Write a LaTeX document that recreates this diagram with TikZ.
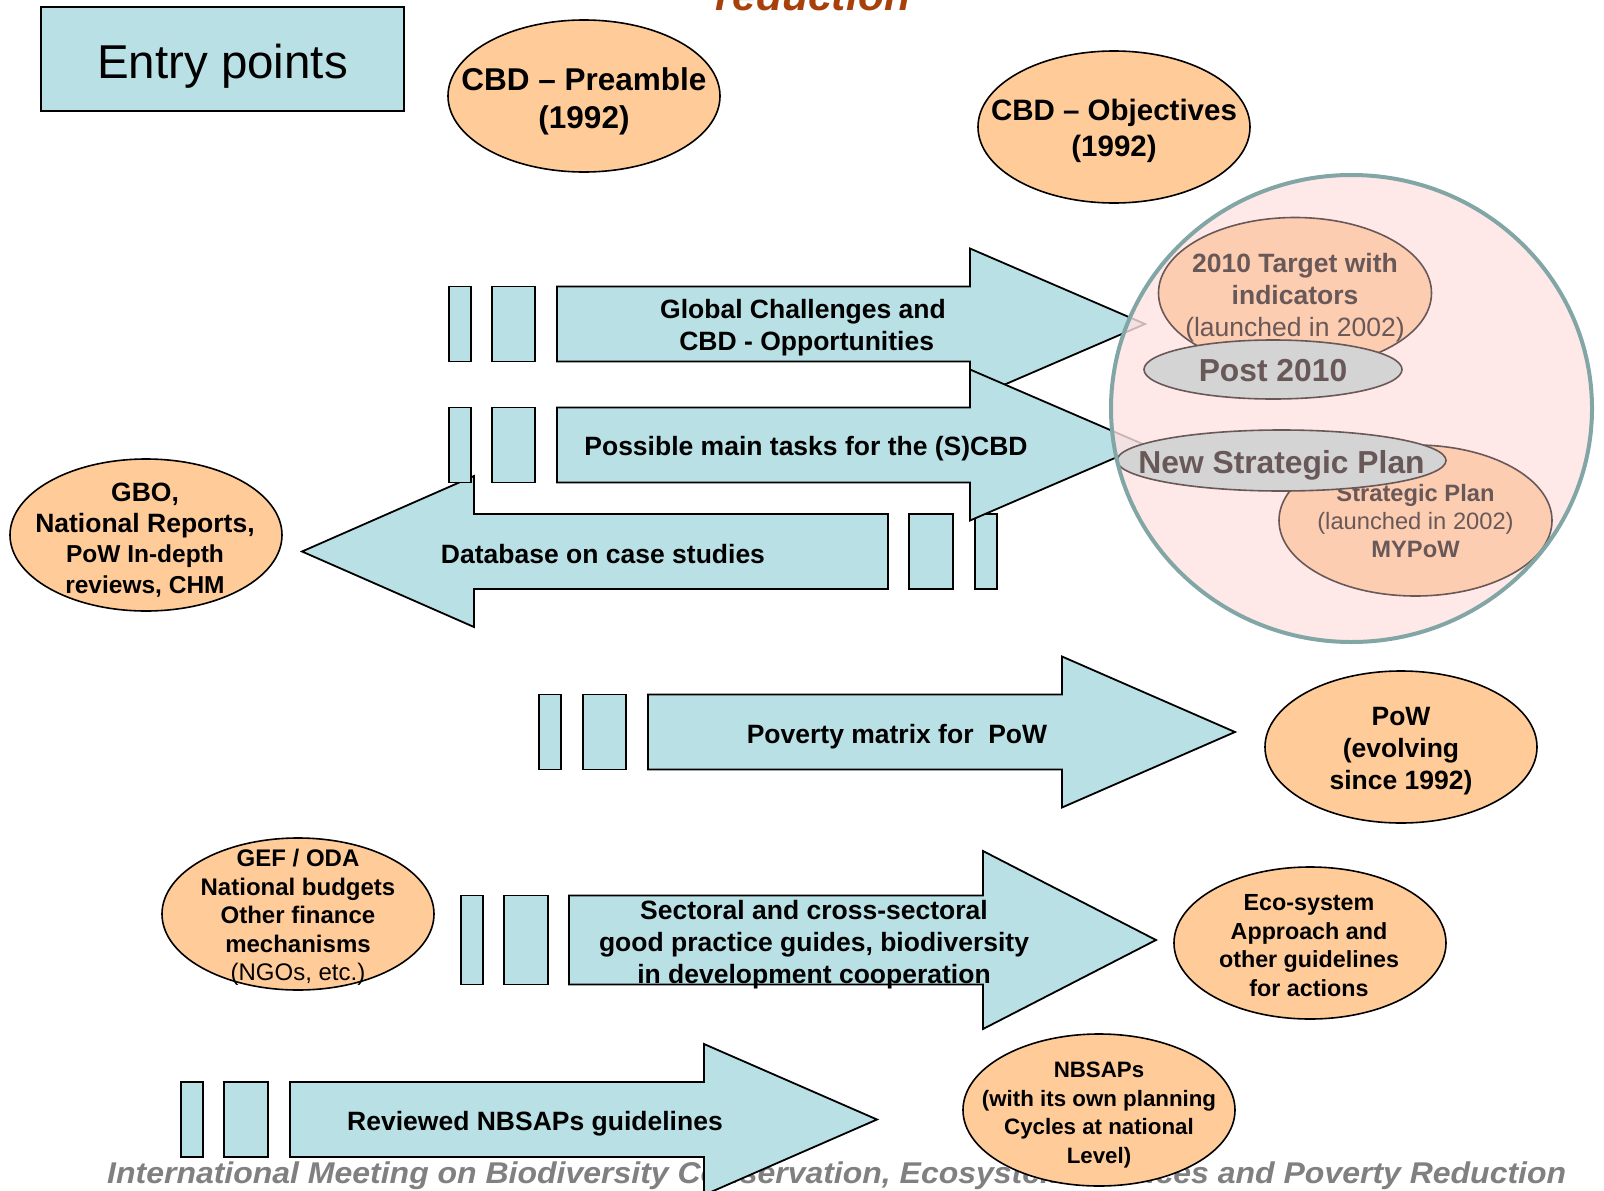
\documentclass[tikz,border=0pt]{standalone}
\usepackage{fontspec}
\setmainfont{Liberation Sans}
\usetikzlibrary{shapes.geometric}
\definecolor{arrowblue}{RGB}{185,224,228}
\definecolor{orangefill}{RGB}{255,204,153}
\definecolor{pinkfill}{RGB}{255,226,226}
\definecolor{circleborder}{RGB}{130,166,166}
\definecolor{innertext}{RGB}{105,88,88}
\definecolor{peach}{RGB}{253,205,178}
\definecolor{grayell}{RGB}{212,212,212}
\definecolor{titlebrown}{RGB}{168,64,12}
\definecolor{footergray}{RGB}{128,128,128}
\newcommand{\myarrowR}[6]{\draw[arrowshape] (#4,#1-#2) -- (#5,#1-#2) -- (#5,#1-#3) -- (#6,#1) -- (#5,#1+#3) -- (#5,#1+#2) -- (#4,#1+#2) -- cycle;}
\newcommand{\mybar}[4]{\draw[arrowshape] (#1,#3-#4) rectangle (#2,#3+#4);}
\newcommand{\smallfs}{\fontsize{24.5pt}{30pt}\selectfont}
\tikzset{
  arrowshape/.style={fill=arrowblue, draw=black, line width=1.8pt, line join=miter},
  orangeell/.style={ellipse, draw=black, line width=1.6pt, fill=orangefill, minimum width=272pt, minimum height=152pt, inner sep=0pt},
  peachell/.style={ellipse, draw=innertext, line width=1.6pt, fill=peach, minimum width=273pt, minimum height=151pt, inner sep=0pt},
  grayellipse/.style={ellipse, draw=innertext, line width=1.6pt, fill=grayell, inner sep=0pt},
  arrowtxt/.style={align=center, font=\fontsize{26.5pt}{31.8pt}\selectfont\bfseries},
  elltxt/.style={align=center, font=\fontsize{24pt}{28.6pt}\selectfont\bfseries},
  inntxt/.style={align=center, text=innertext},
}
\begin{document}
\begin{tikzpicture}[x=1pt, y=-1pt]
\useasboundingbox (0,0) rectangle (1604,1191);
\clip (0,0) rectangle (1604,1191);

% footer (behind)
\node[anchor=base west, inner sep=0pt, text=footergray, font=\fontsize{30pt}{34pt}\selectfont\bfseries\itshape] (footer) at (107,1183) {\scalebox{1.066}[1]{International Meeting on Biodiversity Conservation, Ecosystem Services and Poverty Reduction}};

% title fragment
\node[anchor=base, inner sep=0pt, text=titlebrown, font=\fontsize{42.6pt}{50pt}\selectfont\bfseries\itshape] (title) at (813,10) {reduction};

% entry points box
\node[draw=black, line width=1.8pt, fill=arrowblue, minimum width=363pt, minimum height=104pt, inner sep=0pt] (entry) at (222.5,59) {};
\node[font=\fontsize{47.5pt}{56pt}\selectfont] (entrytxt) at (222.5,66) {Entry points};

% top ellipses
\node[orangeell] (pre) at (584,96) {};
\node[arrowtxt, font=\fontsize{31.5pt}{38pt}\selectfont\bfseries] (pretxt) at (584,101.5) {CBD -- Preamble\\(1992)};
\node[orangeell] (obj) at (1114,127) {};
\node[arrowtxt, font=\fontsize{29.5pt}{36pt}\selectfont\bfseries] (objtxt) at (1114,131) {CBD -- Objectives\\(1992)};

% arrow 1
\mybar{449}{471}{324}{37.5}
\mybar{492}{535}{324}{37.5}
\myarrowR{324}{37.5}{75.5}{557}{970}{1145}
\node[arrowtxt] (a1) at (803,328) {Global Challenges and\\\ CBD - Opportunities};

% arrow 3 (database, leftwards)
\mybar{909}{953}{551.5}{37.5}
\mybar{975}{997}{551.5}{37.5}
\myarrowR{551.5}{37.5}{75.5}{888}{474}{302}
\node[arrowtxt] (a3) at (603,554.5) {Database on case studies};

% arrow 2
\mybar{449}{471}{445}{37.5}
\mybar{492}{535}{445}{37.5}
\myarrowR{445}{37.5}{75.5}{557}{970}{1145}
\node[arrowtxt] (a2) at (806,449) {Possible main tasks for the (S)CBD};

% GBO ellipse
\node[orangeell] (gbo) at (146,535) {};
\node[arrowtxt, font=\fontsize{26.5pt}{30.5pt}\selectfont\bfseries] (gbotxt) at (145,540) {GBO,\\National Reports,\\\smallfs PoW In-depth\\\smallfs reviews, CHM};

% arrow 4
\mybar{539}{561}{732}{37.5}
\mybar{583}{626}{732}{37.5}
\myarrowR{732}{37.5}{75.5}{648}{1062}{1235}
\node[arrowtxt] (a4) at (897,737) {Poverty matrix for\ \ PoW};
\node[orangeell] (pow) at (1401,747) {};
\node[arrowtxt, font=\fontsize{26.5pt}{32pt}\selectfont\bfseries] (powtxt) at (1401,751) {PoW\\(evolving\\since 1992)};

% arrow 5
\mybar{461}{483}{940}{44.5}
\mybar{504}{548}{940}{44.5}
\myarrowR{940}{44.5}{89}{569}{983}{1156}
\node[arrowtxt] (a5) at (814,944.5) {Sectoral and cross-sectoral\\good practice guides, biodiversity\\in development cooperation};
\node[orangeell] (gef) at (298,914) {};
\node[elltxt] (geftxt) at (298,917.5) {GEF / ODA\\National budgets\\Other finance\\mechanisms\\\mdseries (NGOs, etc.)};
\node[orangeell] (eco) at (1310,943) {};
\node[elltxt, font=\fontsize{23.3pt}{28.6pt}\selectfont\bfseries] (ecotxt) at (1309,945.5) {Eco-system\\Approach and\\other guidelines\\for actions};

% arrow 6
\mybar{181}{203}{1119.5}{37.5}
\mybar{224}{268}{1119.5}{37.5}
\myarrowR{1119.5}{37.5}{75.5}{290}{704}{877}
\node[arrowtxt] (a6) at (535,1124) {Reviewed NBSAPs guidelines};
\node[orangeell] (nbs) at (1099,1110) {};
\node[elltxt, font=\fontsize{22.3pt}{28.6pt}\selectfont\bfseries] (nbstxt) at (1099,1115) {NBSAPs\\(with its own planning\\Cycles at national\\Level)};

% big circle (translucent over arrows)
\fill[pinkfill, fill opacity=0.8] (1351.5,408.5) ellipse [x radius=240.5, y radius=233.5];
\node[peachell] (t2010) at (1295,293) {};
\node[inntxt, font=\fontsize{26.5pt}{32pt}\selectfont] (t2010txt) at (1295,298) {\bfseries 2010 Target with\\\bfseries indicators\\(launched in 2002)};
\node[grayellipse, minimum width=258pt, minimum height=59pt] (post) at (1273,369.5) {};
\node[inntxt, font=\fontsize{31.8pt}{36pt}\selectfont\bfseries] (posttxt) at (1273,371) {Post 2010};
\node[peachell] (sp) at (1415.5,520.5) {};
\node[inntxt, font=\fontsize{23.7pt}{28.4pt}\selectfont] (sptxt) at (1415.5,521) {\bfseries Strategic Plan\\(launched in 2002)\\\bfseries MYPoW};
\node[grayellipse, minimum width=329pt, minimum height=61pt] (nsp) at (1281.5,460.5) {};
\node[inntxt, font=\fontsize{31.8pt}{36pt}\selectfont\bfseries] (nsptxt) at (1281.5,465) {New Strategic Plan};
\draw[circleborder, line width=4pt] (1351.5,408.5) ellipse [x radius=240.5, y radius=233.5];
\end{tikzpicture}
\end{document}
